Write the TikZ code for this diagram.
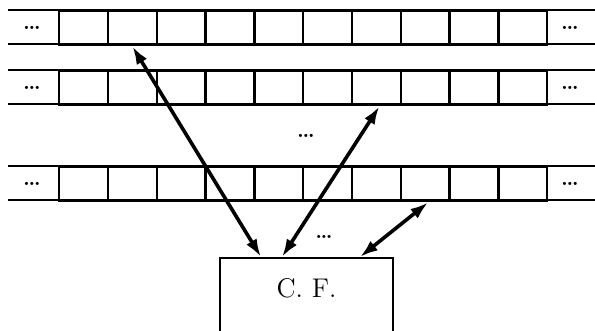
\documentclass[tikz,border=0pt]{standalone}
\usetikzlibrary{arrows.meta,calc}
\begin{document}
\begin{tikzpicture}[x=0.5pt,y=-0.5pt,
  tapeline/.style={line width=1.2pt},
  cell/.style={draw,line width=1.2pt,minimum width=24.4pt,minimum height=17pt,inner sep=0pt,anchor=north west},
  dotsnode/.style={font=\fontsize{11}{13}\selectfont\bfseries,inner sep=0pt},
  smalldots/.style={font=\fontsize{10}{12}\selectfont\bfseries,inner sep=0pt},
  link/.style={line width=1.8pt,{Latex[length=9pt,width=6pt]}-{Latex[length=9pt,width=6pt]}},
  cfbox/.style={draw,line width=1pt,anchor=north,minimum width=86.5pt,inner xsep=0pt,inner ysep=10pt,text depth=40pt,font=\fontsize{13.5}{15}\selectfont}]
\useasboundingbox (0,0) rectangle (595,331);
% tapes
\foreach \r/\y in {1/10,2/70,3/166}{
  \draw[tapeline] (8,\y) -- (595,\y);
  \draw[tapeline] (8,\y+34) -- (595,\y+34);
  \foreach \c in {1,...,10}{
    \node[cell] (r\r c\c) at ({58+48.8*(\c-1)},\y) {};
  }
  \node[dotsnode] (l\r) at (32,\y+18) {\ldots};
  \node[dotsnode] (rt\r) at (570,\y+18) {\ldots};
}
\node[dotsnode] (vdots) at (306,136) {\ldots};
\node[smalldots] (cfdots) at (324,237) {\ldots};
% control box
\node[cfbox] (cf) at (306.5,257) {C. F.};
\coordinate (p1) at ($(cf.north west)+(42,0)$);
\coordinate (p2) at ($(cf.north west)+(63,0)$);
\coordinate (p3) at ($(cf.north west)+(141,0)$);
\draw[link] (r1c2.south) -- (p1);
\draw[link] ($(r2c7.south)+(3,0)$) -- (p2);
\draw[link] ($(r3c8.south)+(3,0)$) -- (p3);
\end{tikzpicture}
\end{document}
